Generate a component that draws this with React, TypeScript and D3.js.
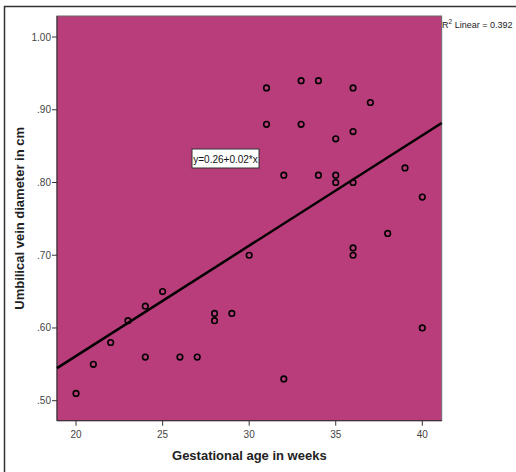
import React from "react";
import * as d3 from "d3";

const ages = [20, 21, 22, 23, 24, 24, 25, 26, 27, 28, 28, 29, 30, 31, 31, 32, 32, 33, 33, 34, 34, 35, 35, 35, 36, 36, 36, 36, 36, 37, 38, 39, 40, 40];
const diameters = [0.51, 0.55, 0.58, 0.61, 0.63, 0.56, 0.65, 0.56, 0.56, 0.62, 0.61, 0.62, 0.70, 0.93, 0.88, 0.81, 0.53, 0.94, 0.88, 0.94, 0.81, 0.86, 0.81, 0.80, 0.93, 0.87, 0.80, 0.71, 0.70, 0.91, 0.73, 0.82, 0.78, 0.60];
const xTicks = [20, 25, 30, 35, 40];
const yTicks = [0.5, 0.6, 0.7, 0.8, 0.9, 1.0];
const fitIntercept = 0.258;
const fitSlope = 0.01517;
const equationLabel = "y=0.26+0.02*x";
const r2Label = "0.392";

export default function App() {
  const W = 516, H = 472;
  const left = 57, right = 441.7, top = 16, bottom = 420.7;
  const x = d3.scaleLinear().domain([18.9, 41.12]).range([left, right]);
  const y = d3.scaleLinear().domain([0.4725, 1.0289]).range([bottom, top]);
  const xd = x.domain();
  const line = d3.line<number>().x(d => x(d)).y(d => y(fitIntercept + fitSlope * d));
  const font = "Arial, 'Liberation Sans', sans-serif";
  return (
    <svg width={W} height={H} style={{ position: "absolute", left: 0, top: 0, background: "#fff" }}>
      <line x1={4.5} y1={6} x2={4.5} y2={H} stroke="#333" strokeWidth={1.5} />
      <line x1={4} y1={6.5} x2={W} y2={6.5} stroke="#333" strokeWidth={1.5} />
      <rect x={left} y={top} width={right - left} height={bottom - top} fill="#b93c7b" stroke="#6b6b6b" strokeWidth={1} />
      <line x1={left} y1={top} x2={left} y2={bottom} stroke="#3a2030" strokeWidth={1} />
      <line x1={left} y1={bottom} x2={right} y2={bottom} stroke="#3a2030" strokeWidth={1} />
      {yTicks.map(t => (
        <g key={"y" + t}>
          <line x1={left - 5} x2={left} y1={y(t)} y2={y(t)} stroke="#333" strokeWidth={1} />
          <text x={left - 6} y={y(t) + 3.5} fontSize={10} fontFamily={font} fill="#444" textAnchor="end">
            {t.toFixed(2).replace(/^0/, "")}
          </text>
        </g>
      ))}
      {xTicks.map(t => (
        <g key={"x" + t}>
          <line x1={x(t)} x2={x(t)} y1={bottom} y2={bottom + 5} stroke="#333" strokeWidth={1} />
          <text x={x(t)} y={bottom + 17} fontSize={10} fontFamily={font} fill="#444" textAnchor="middle">{t}</text>
        </g>
      ))}
      <path d={line(xd) || ""} stroke="#000" strokeWidth={2.5} fill="none" />
      {ages.map((a, i) => (
        <circle key={i} cx={x(a)} cy={y(diameters[i])} r={2.8} fill="none" stroke="#000" strokeWidth={1.6} />
      ))}
      <rect x={192} y={149} width={67} height={19} fill="#fff" stroke="#333" strokeWidth={1} />
      <text x={225.5} y={162.5} fontSize={10} fontFamily={font} fill="#111" textAnchor="middle">{equationLabel}</text>
      <text x={442} y={28} fontSize={9} fontFamily={font} fill="#222">
        R<tspan fontSize={6.5} dy={-4}>2</tspan><tspan dy={4}>{" Linear = " + r2Label}</tspan>
      </text>
      <text x={(left + right) / 2} y={460} fontSize={13} fontWeight="bold" fontFamily={font} fill="#222" textAnchor="middle">
        Gestational age in weeks
      </text>
      <text transform={`translate(24,${(top + bottom) / 2}) rotate(-90)`} fontSize={13} fontWeight="bold" fontFamily={font} fill="#222" textAnchor="middle">
        Umbilical vein diameter in cm
      </text>
    </svg>
  );
}
